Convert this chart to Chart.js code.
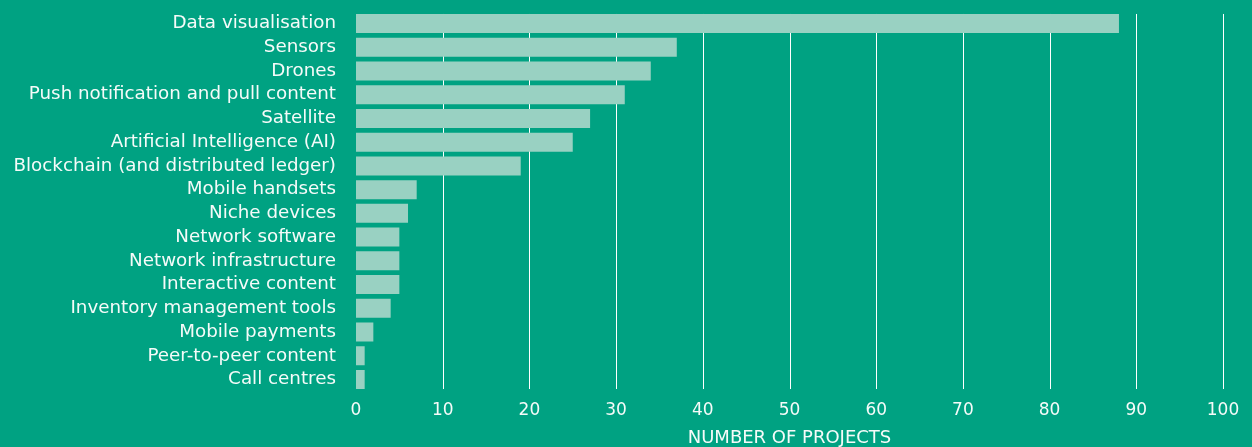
<!DOCTYPE html>
<html>
<head>
<meta charset="utf-8">
<script src="https://cdn.jsdelivr.net/npm/chart.js@4/dist/chart.umd.min.js"></script>
<style>
  html, body { margin: 0; padding: 0; background: #00A282; }
  #wrap { width: 1252px; height: 447px; position: relative; }
</style>
</head>
<body>
<div id="wrap"><canvas id="c" width="1252" height="447"></canvas></div>
<script>
const categories = [
  "Data visualisation",
  "Sensors",
  "Drones",
  "Push notification and pull content",
  "Satellite",
  "Artificial Intelligence (AI)",
  "Blockchain (and distributed ledger)",
  "Mobile handsets",
  "Niche devices",
  "Network software",
  "Network infrastructure",
  "Interactive content",
  "Inventory management tools",
  "Mobile payments",
  "Peer-to-peer content",
  "Call centres"
];
const projectCounts = [88, 37, 34, 31, 27, 25, 19, 7, 6, 5, 5, 5, 4, 2, 1, 1];
const xTicks = [0, 10, 20, 30, 40, 50, 60, 70, 80, 90, 100];
const axisTitle = "NUMBER OF PROJECTS";

const BAR_PCT = 0.8;

const gridPlugin = {
  id: 'insetGrid',
  beforeDatasetsDraw(chart) {
    const {ctx, chartArea, scales} = chart;
    const band = (chartArea.bottom - chartArea.top) / categories.length;
    const inset = band * (1 - BAR_PCT) / 2;
    ctx.save();
    ctx.strokeStyle = '#ffffff';
    ctx.lineWidth = 1;
    xTicks.forEach(v => {
      if (v === 0) return;
      const x = Math.round(scales.x.getPixelForValue(v)) + 0.5;
      ctx.beginPath();
      ctx.moveTo(x, chartArea.top + inset);
      ctx.lineTo(x, chartArea.bottom - inset);
      ctx.stroke();
    });
    ctx.restore();
  }
};

new Chart(document.getElementById('c'), {
  type: 'bar',
  data: {
    labels: categories,
    datasets: [{
      data: projectCounts,
      backgroundColor: '#99D1C2',
      borderWidth: 0,
      barPercentage: BAR_PCT,
      categoryPercentage: 1.0
    }]
  },
  options: {
    indexAxis: 'y',
    responsive: false,
    animation: false,
    devicePixelRatio: 1,
    layout: { padding: { top: 11.6, right: 29, left: 0, bottom: 0 } },
    plugins: { legend: { display: false }, tooltip: { enabled: false } },
    scales: {
      x: {
        min: 0, max: 100,
        afterBuildTicks(scale) { scale.ticks = xTicks.map(v => ({ value: v })); },
        afterFit(scale) {
          scale.height = 447 - 391.4;
          scale.paddingLeft = 0; scale.paddingRight = 0;
        },
        grid: { display: false, drawTicks: false },
        border: { display: false },
        ticks: {
          color: '#f5fbf9',
          padding: 9,
          font: { family: '"DejaVu Sans", sans-serif', size: 17 }
        },
        title: {
          display: true,
          text: axisTitle,
          color: '#f5fbf9',
          padding: 0,
          font: { family: '"DejaVu Sans", sans-serif', size: 18, lineHeight: 1.0 }
        }
      },
      y: {
        afterFit(scale) {
          scale.width = 356;
          scale.paddingTop = 0; scale.paddingBottom = 0;
        },
        grid: { display: false, drawTicks: false },
        border: { display: false },
        ticks: {
          color: '#f5fbf9',
          padding: 20,
          autoSkip: false,
          font: { family: '"DejaVu Sans", sans-serif', size: 18.3 }
        }
      }
    }
  },
  plugins: [gridPlugin]
});
</script>
</body>
</html>
